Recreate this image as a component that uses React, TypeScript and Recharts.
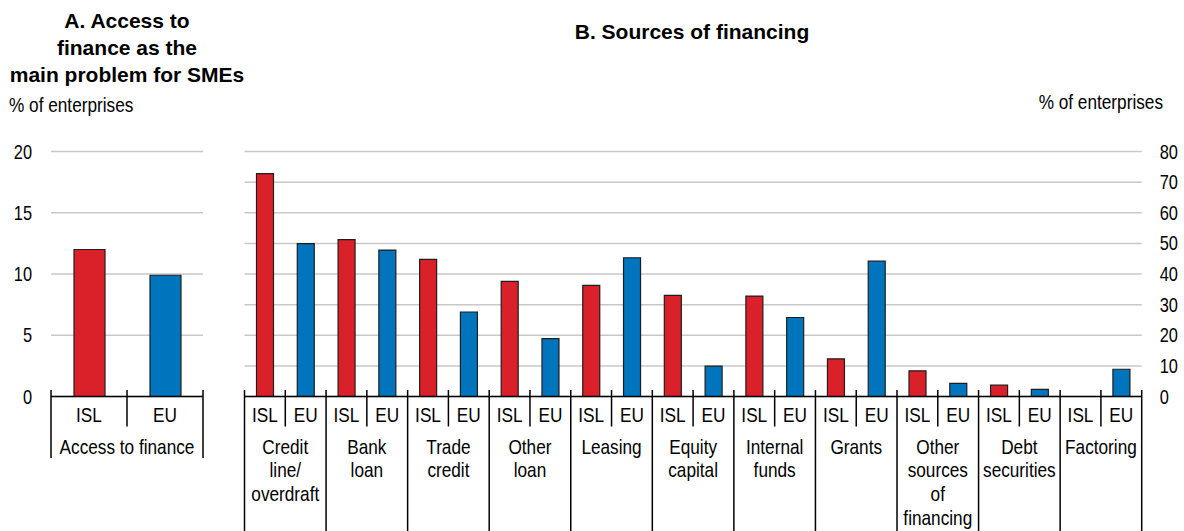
import React from "react";
import { BarChart, Bar, XAxis, YAxis, CartesianGrid, Cell } from "recharts";

const FONT = "'Liberation Sans', Arial, sans-serif";
const NARROW_SCALE = 0.82;

const RED = "#DA2129";
const BLUE = "#0075BE";
const GRID = "#C8C8C8";

// Panel A
const accessCategory = "Access to finance";
const accessGroups = ["ISL", "EU"];
const accessValues = [12.0, 9.9];
const leftTicks = [0, 5, 10, 15, 20];

// Panel B
const sourceCategories = [
  "Credit\nline/\noverdraft",
  "Bank\nloan",
  "Trade\ncredit",
  "Other\nloan",
  "Leasing",
  "Equity\ncapital",
  "Internal\nfunds",
  "Grants",
  "Other\nsources\nof\nfinancing",
  "Debt\nsecurities",
  "Factoring",
];
const islValues = [72.8, 51.2, 44.8, 37.6, 36.3, 33.0, 32.8, 12.3, 8.4, 3.7, 0];
const euValues = [49.9, 47.8, 27.6, 18.9, 45.3, 9.9, 25.8, 44.2, 4.3, 2.3, 8.9];
const rightTicks = [0, 10, 20, 30, 40, 50, 60, 70, 80];

type Row = { key: string; group: string; category: string; value: number; first: boolean; last: boolean };

const accessRows: Row[] = accessGroups.map((g, i) => ({
  key: `0-${g}`,
  group: g,
  category: accessCategory,
  value: accessValues[i],
  first: i === 0,
  last: i === accessGroups.length - 1,
}));

const sourceRows: Row[] = sourceCategories.flatMap((cat, i) => [
  { key: `${i}-ISL`, group: "ISL", category: cat, value: islValues[i], first: true, last: false },
  { key: `${i}-EU`, group: "EU", category: cat, value: euValues[i], first: false, last: i === sourceCategories.length - 1 },
]);

// arial-narrow look: squeeze Liberation Sans horizontally
function NarrowText({ x, y, anchor = "start", size = 21, dy, children }: any) {
  return (
    <text
      transform={`translate(${x},${y}) scale(${NARROW_SCALE},1)`}
      textAnchor={anchor}
      fontFamily={FONT}
      fontSize={size}
      fill="#000"
      dy={dy}
    >
      {children}
    </text>
  );
}

function ValueTick(props: any) {
  const { x, y, payload, textAnchor } = props;
  return (
    <NarrowText x={x} y={y} anchor={textAnchor} size={20} dy="0.355em">
      {payload.value}
    </NarrowText>
  );
}

function GroupTick(props: any) {
  const { x, y, payload, rows, slot, bottom } = props;
  const row: Row = rows.find((r: Row) => r.key === payload.value);
  if (!row) return null;
  const left = x - slot / 2;
  const right = x + slot / 2;
  const lines = row.category.split("\n");
  return (
    <g>
      <line x1={left} x2={left} y1={y - 6.5} y2={row.first ? bottom : y + 30} stroke="#000" strokeWidth={1.5} />
      {row.last && <line x1={right} x2={right} y1={y - 6.5} y2={bottom} stroke="#000" strokeWidth={1.5} />}
      <NarrowText x={x} y={y + 25} anchor="middle">
        {row.group}
      </NarrowText>
      {row.first &&
        lines.map((l, i) => (
          <NarrowText key={i} x={right} y={y + 57 + i * 23.7} anchor="middle">
            {l}
          </NarrowText>
        ))}
    </g>
  );
}

export default function App() {
  const aWidth = 230;
  const aSlot = (aWidth - 51 - 27) / accessRows.length;
  const bWidth = 954;
  const bSlot = (bWidth - 14.5 - 42.3) / sourceRows.length;

  return (
    <div style={{ position: "absolute", left: 0, top: 0, width: 1184, height: 531, background: "#fff", fontFamily: FONT }}>
      <div style={{ position: "absolute", left: 0, top: 0 }}>
        <BarChart width={aWidth} height={531} data={accessRows} margin={{ top: 151.5, right: 27, bottom: 0, left: 0 }}>
          <CartesianGrid vertical={false} stroke={GRID} strokeWidth={1.5} />
          <XAxis
            dataKey="key"
            interval={0}
            height={134.5}
            tickSize={0}
            tickMargin={0}
            axisLine={{ stroke: "#000", strokeWidth: 1.5 }}
            tick={(p: any) => <GroupTick {...p} rows={accessRows} slot={aSlot} bottom={458} />}
          />
          <YAxis
            domain={[0, 20]}
            ticks={leftTicks}
            width={51}
            axisLine={false}
            tickLine={false}
            tickSize={0}
            tickMargin={19}
            tick={(p: any) => <ValueTick {...p} />}
          />
          <Bar dataKey="value" barSize={31} stroke="#1e1e1e" strokeWidth={1.2} isAnimationActive={false}>
            {accessRows.map((r) => (
              <Cell key={r.key} fill={r.group === "ISL" ? RED : BLUE} />
            ))}
          </Bar>
        </BarChart>
      </div>
      <div style={{ position: "absolute", left: 230, top: 0 }}>
        <BarChart width={bWidth} height={531} data={sourceRows} margin={{ top: 151.5, right: 0, bottom: 0, left: 14.5 }}>
          <CartesianGrid vertical={false} stroke={GRID} strokeWidth={1.5} />
          <XAxis
            dataKey="key"
            interval={0}
            height={134.5}
            tickSize={0}
            tickMargin={0}
            axisLine={{ stroke: "#000", strokeWidth: 1.5 }}
            tick={(p: any) => <GroupTick {...p} rows={sourceRows} slot={bSlot} bottom={531} />}
          />
          <YAxis
            orientation="right"
            domain={[0, 80]}
            ticks={rightTicks}
            width={42.3}
            axisLine={false}
            tickLine={false}
            tickSize={0}
            tickMargin={18}
            tick={(p: any) => <ValueTick {...p} />}
          />
          <Bar dataKey="value" barSize={17} stroke="#1e1e1e" strokeWidth={1.2} isAnimationActive={false}>
            {sourceRows.map((r) => (
              <Cell key={r.key} fill={r.group === "ISL" ? RED : BLUE} />
            ))}
          </Bar>
        </BarChart>
      </div>
      <svg width={1184} height={531} style={{ position: "absolute", left: 0, top: 0, pointerEvents: "none" }}>
        <g fontFamily={FONT} fontWeight="bold" fontSize={21} textAnchor="middle" fill="#000">
          <text x={127} y={28}>A. Access to</text>
          <text x={127} y={55}>finance as the</text>
          <text x={127} y={82}>main problem for SMEs</text>
          <text x={692} y={39}>B. Sources of financing</text>
        </g>
        <NarrowText x={9} y={112}>% of enterprises</NarrowText>
        <NarrowText x={1163} y={109} anchor="end">% of enterprises</NarrowText>
      </svg>
    </div>
  );
}
